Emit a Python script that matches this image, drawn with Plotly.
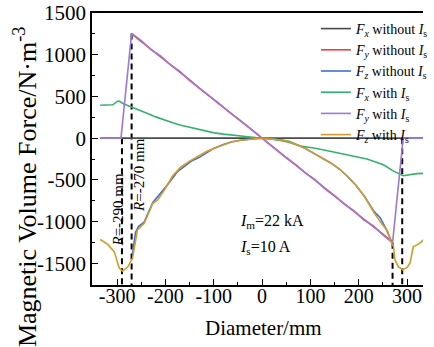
import plotly.graph_objects as go

FONT = "Liberation Serif"

# ---------------- data ----------------
# Fx without Is (flat zero line)
fx_wo_x = [-335, -200, 0, 200, 335]
fx_wo_y = [0, 0, 0, 0, 0]

# Fy without Is (red)
fy_wo_x = [-270, -250, -230, -210, -190, -170, -150, -130, -110, -90, -70, -50, -30, -10,
           10, 30, 50, 70, 90, 110, 130, 150, 170, 190, 210, 230, 250, 270]
fy_wo_y = [1250, 1160, 1070, 975, 885, 790, 700, 600, 505, 415, 325, 230, 140, 45,
           -50, -135, -235, -320, -420, -500, -605, -695, -785, -880, -970, -1065, -1150, -1250]

# Fy with Is (purple)
fy_w_x = [-335, -292, -270, -250, -230, -210, -190, -170, -150, -130, -110, -90, -70, -50, -30, -10,
          10, 30, 50, 70, 90, 110, 130, 150, 170, 190, 210, 230, 250, 270, 292, 335]
fy_w_y = [0, 0, 1255, 1170, 1060, 985, 880, 800, 690, 605, 510, 420, 320, 235, 140, 45,
          -45, -140, -230, -325, -415, -505, -600, -690, -790, -870, -980, -1050, -1160, -1255, 0, 0]

# Fz with Is (orange)
fz_w_x = [-335, -320, -306, -296, -289, -278, -268, -264, -258, -244, -226, -216, -200, -185,
          -168, -150, -133, -115, -99, -80, -64, -45, -29, -10, 10, 25, 40, 55, 74, 90, 108,
          125, 143, 160, 177, 195, 212, 232, 246, 260, 266, 272, 275, 282, 291, 300, 306, 313,
          324, 334]
fz_w_y = [-1215, -1270, -1360, -1550, -1595, -1545, -1437, -1278, -1100, -1020, -780, -740, -600,
          -450, -345, -275, -215, -160, -120, -75, -45, -25, -12, -5, -5, -12, -22, -38, -80, -125,
          -185, -240, -300, -370, -460, -570, -700, -895, -1015, -1115, -1230, -1300, -1460, -1540,
          -1577, -1550, -1500, -1300, -1270, -1220]

# Fz without Is (blue)
fz_wo_x = [-268, -262, -256, -244, -226, -200, -175, -160, -145, -130, -113, -99, -80, -64, -45, -29,
           -10, 10, 25, 40, 55, 74, 90, 108, 125, 143, 160, 177, 195, 212, 232, 244, 256, 262, 268]
fz_wo_y = [-1390, -1130, -1060, -1005, -770, -590, -400, -330, -270, -230, -165, -120, -75, -45, -25,
           -12, -5, -5, -12, -22, -38, -80, -125, -185, -240, -300, -370, -460, -570, -700, -880,
           -950, -1080, -1150, -1240]

# Fx with Is (green)
fx_w_x = [-335, -320, -309, -300, -296, -286, -275, -264, -250, -237, -220, -202, -185, -168, -150,
          -133, -115, -99, -80, -64, -45, -29, -10, 0, 10, 25, 40, 55, 79, 113, 148, 182, 217,
          251, 272, 292, 306, 320, 335]
fx_w_y = [395, 395, 400, 440, 445, 410, 385, 365, 330, 295, 255, 215, 185, 155, 130, 103, 80, 63,
          48, 36, 25, 16, 5, 0, -5, -15, -30, -50, -95, -125, -165, -205, -250, -320, -395, -450,
          -438, -425, -422]

# radius markers (dashed lines) and their top values
r_marks = [-290, -270, 270, 290]
r_tops = [0, 1255, -1255, 0]

x_ticks = [-300, -200, -100, 0, 100, 200, 300]
y_ticks = [-1500, -1000, -500, 0, 500, 1000, 1500]

X_RANGE = [-352, 333]
Y_RANGE = [-1760, 1500]

# ---------------- figure ----------------
fig = go.Figure()

series = [
    (fx_wo_x, fx_wo_y, "#4a4a4a", "<i>F<sub>x</sub></i> without <i>I</i><sub>s</sub>"),
    (fy_wo_x, fy_wo_y, "#ee4035", "<i>F<sub>y</sub></i> without <i>I</i><sub>s</sub>"),
    (fz_wo_x, fz_wo_y, "#3d6fd1", "<i>F<sub>z</sub></i> without <i>I</i><sub>s</sub>"),
    (fx_w_x, fx_w_y, "#34b26c", "<i>F<sub>x</sub></i> with <i>I</i><sub>s</sub>"),
    (fy_w_x, fy_w_y, "#9d78d4", "<i>F<sub>y</sub></i> with <i>I</i><sub>s</sub>"),
    (fz_w_x, fz_w_y, "#d39b2c", "<i>F<sub>z</sub></i> with <i>I</i><sub>s</sub>"),
]

# dashed marker lines first (under curves)
for rx, ry in zip(r_marks, r_tops):
    fig.add_trace(go.Scatter(x=[rx, rx], y=[ry, Y_RANGE[0]], mode="lines",
                             line=dict(color="black", width=2, dash="6px,4px"),
                             showlegend=False, hoverinfo="skip"))

for xs, ys, col, name in series:
    fig.add_trace(go.Scatter(x=xs, y=ys, mode="lines", name=name,
                             line=dict(color=col, width=1.6)))

fig.update_layout(
    width=434, height=347,
    margin=dict(l=92, r=11, t=13, b=62, autoexpand=False),
    paper_bgcolor="white", plot_bgcolor="white",
    font=dict(family=FONT, size=21, color="black"),
    showlegend=True,
    legend=dict(x=1.033, y=1.0, xanchor="right", yanchor="top",
                bgcolor="rgba(255,255,255,0)", borderwidth=0, font=dict(size=14, family=FONT),
                tracegroupgap=0, itemwidth=30),
)

fig.update_xaxes(range=X_RANGE, tickvals=x_ticks, ticktext=[str(v) for v in x_ticks],
                 showgrid=False, zeroline=False, showline=True, linecolor="black", linewidth=1.5,
                 mirror=True, ticks="inside", ticklen=6, tickwidth=1.2, tickcolor="black",
                 tickfont=dict(size=20, family=FONT), ticklabelstandoff=-8,
                 minor=dict(dtick=50, tick0=0, ticks="inside", ticklen=3, tickcolor="black", showgrid=False))
fig.update_yaxes(range=Y_RANGE, tickvals=y_ticks, ticktext=[str(v) for v in y_ticks],
                 showgrid=False, zeroline=False, showline=True, linecolor="black", linewidth=1.5,
                 mirror=False, ticks="inside", ticklen=6, tickwidth=1.2, tickcolor="black",
                 tickfont=dict(size=21, family=FONT),
                 minor=dict(dtick=250, tick0=0, ticks="inside", ticklen=3, tickcolor="black", showgrid=False))

ann = [
    dict(text="Diameter/mm", xref="paper", yref="paper", x=0.517, y=-0.158,
         xanchor="center", yanchor="middle", showarrow=False, font=dict(size=21, family=FONT)),
    dict(text="Magnetic Volume Force/N·m<sup>-3</sup>", xref="paper", yref="paper",
         x=-0.2024, y=0.36, xanchor="center", yanchor="middle", textangle=-90,
         showarrow=False, font=dict(size=26, family=FONT)),
    dict(text="<i>R</i>=-290 mm", x=-299, y=-860, textangle=-90, showarrow=False,
         xanchor="center", yanchor="middle", font=dict(size=15, family=FONT)),
    dict(text="<i>R</i>=-270 mm", x=-255, y=-442, textangle=-90, showarrow=False,
         xanchor="center", yanchor="middle", font=dict(size=15, family=FONT)),
    dict(text="<i>I</i><sub>m</sub>=22 kA", x=-50, y=-1003, showarrow=False,
         xanchor="left", yanchor="middle", font=dict(size=16, family=FONT)),
    dict(text="<i>I</i><sub>s</sub>=10 A", x=-50, y=-1314, showarrow=False,
         xanchor="left", yanchor="middle", font=dict(size=16, family=FONT)),
]
fig.update_layout(annotations=ann)

fig.write_html("out.html")
